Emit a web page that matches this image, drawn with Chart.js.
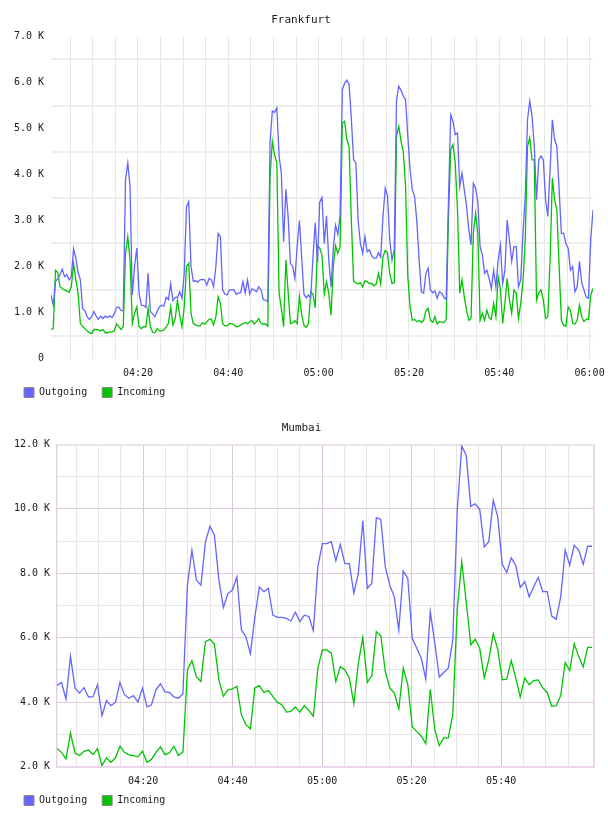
<!DOCTYPE html>
<html>
<head>
<meta charset="utf-8">
<title>Frankfurt / Mumbai traffic</title>
<script src="https://cdn.jsdelivr.net/npm/chart.js@4.4.1/dist/chart.umd.min.js"></script>
<style>
    html, body { margin: 0; padding: 0; background: #fff; }
    canvas { display: block; }
</style>
</head>
<body>
<canvas id="frankfurtChart" width="608" height="408"></canvas>
<canvas id="mumbaiChart" width="608" height="408"></canvas>
<script>
// x values are minutes after 04:00, y values are in K
const seriesNames = ['Outgoing', 'Incoming'];
const seriesColors = ['#6464ff', '#00c400'];

const axisStart = 0.75;
const axisEnd = 120.75;
const timeLabelMinutes = [20, 40, 60, 80, 100, 120];
const timeLabels = ['04:20', '04:40', '05:00', '05:20', '05:40', '06:00'];

// Frankfurt: one sample every 30 s
const frankfurtStart = 0.75;
const frankfurtStep = 0.5;
const frankfurtOutgoing = [
    1.38, 1.16, 1.67, 1.74, 1.82, 1.94, 1.78, 1.82, 1.71, 1.78,
    2.38, 2.18, 1.87, 1.71, 1.09, 1.04, 0.91, 0.85, 0.91, 1.02,
    0.92, 0.85, 0.92, 0.87, 0.92, 0.89, 0.93, 0.89, 0.97, 1.11,
    1.12, 1.04, 1.04, 3.89, 4.25, 3.74, 1.38, 2.0, 2.40, 1.42,
    1.16, 1.15, 1.11, 1.85, 1.02, 0.97, 0.91, 1.02, 1.12, 1.16,
    1.14, 1.33, 1.28, 1.62, 1.26, 1.33, 1.33, 1.45, 1.31, 1.85,
    3.3,
    3.41, 2.0, 1.68, 1.69, 1.66, 1.71, 1.72, 1.71, 1.60, 1.74,
    1.71, 1.56, 2.0, 2.72, 2.65, 1.49, 1.40, 1.38, 1.49, 1.49,
    1.49, 1.40, 1.42, 1.43, 1.67, 1.42, 1.71, 1.40, 1.52, 1.49,
    1.45, 1.56, 1.49, 1.28, 1.27, 1.23, 4.7, 5.38, 5.35, 5.45,
    4.40, 4.03, 2.54, 3.68, 3.09, 2.07, 2.0, 1.74, 2.43, 3.0,
    2.2, 1.4, 1.32, 1.38, 1.32, 2.2, 2.95, 2.1, 3.4, 3.5,
    2.5,
    3.1, 2.14, 1.55, 2.4, 2.9, 2.7, 3.1, 5.85, 5.98, 6.05,
    5.96, 5.2, 4.32, 4.25, 3.0, 2.5, 2.29, 2.65, 2.32, 2.36,
    2.23, 2.18, 2.18, 2.30, 2.2, 3.09, 3.7, 3.54, 2.58, 2.14,
    2.36, 5.63, 5.92, 5.83, 5.7, 5.63, 4.83, 4.1, 3.67, 3.52,
    2.98, 2.14, 1.45, 1.42, 1.85, 1.96, 1.49, 1.43, 1.47, 1.31,
    1.45, 1.42, 1.33, 1.28, 3.45, 5.3, 5.16, 4.87, 4.9, 3.74,
    4.03, 3.67, 3.31, 2.8, 2.47, 3.81, 3.7, 3.41, 2.43, 2.25,
    1.85, 1.92, 1.74, 1.52, 1.92, 1.56, 2.14, 2.47, 1.63, 1.92,
    3.01, 2.58, 2.11, 2.43, 2.43, 1.56, 1.71, 2.72, 3.52, 5.19,
    5.6, 5.27, 4.61, 3.45, 4.32, 4.4, 4.32, 3.45, 3.09, 4.1,
    5.19, 4.76, 4.61, 3.67, 2.72, 2.72, 2.5, 2.4, 1.92, 2.0,
    1.45, 1.56, 2.11, 1.65, 1.49, 1.33, 1.31, 2.58, 3.23
];
const frankfurtIncoming = [
    0.63, 0.65, 1.92, 1.87, 1.56, 1.52, 1.49, 1.47, 1.44, 1.56,
    2.06, 1.71, 1.42, 0.76, 0.70, 0.65, 0.60, 0.56, 0.54, 0.63,
    0.63, 0.62, 0.60, 0.63, 0.56, 0.56, 0.58, 0.58, 0.60, 0.75,
    0.70, 0.63, 0.69, 2.29, 2.65, 2.14, 0.76, 0.99, 1.12, 0.69,
    0.65, 0.69, 0.69, 1.09, 0.69, 0.57, 0.56, 0.65, 0.60, 0.60,
    0.62, 0.69, 0.76, 1.12, 0.73, 0.87, 1.27, 0.94, 0.69, 1.12,
    2.0,
    2.07, 0.98, 0.76, 0.73, 0.71, 0.71, 0.78, 0.74, 0.80, 0.85,
    0.86, 0.73, 0.91, 1.34, 1.2, 0.76, 0.71, 0.71, 0.76, 0.76,
    0.74, 0.69, 0.70, 0.73, 0.76, 0.78, 0.76, 0.80, 0.83, 0.75,
    0.80, 0.87, 0.76, 0.75, 0.75, 0.70, 3.96, 4.72, 4.43, 4.25,
    1.42, 1.09, 0.69, 2.14, 1.45, 0.76, 0.78, 0.82, 0.76, 1.36,
    0.95, 0.72, 0.68, 0.75, 1.45, 1.4, 1.1, 2.45, 2.4, 2.25,
    1.4,
    1.67, 1.42, 0.94, 2.0, 2.45, 2.29, 2.43, 5.12, 5.16, 4.76,
    4.61, 3.0, 1.67, 1.65, 1.62, 1.65, 1.56, 1.69, 1.67, 1.63,
    1.63, 1.58, 1.62, 1.85, 1.62, 2.21, 2.35, 2.3, 1.85, 1.63,
    1.65, 4.83, 5.05, 4.72, 4.5, 3.74, 1.78, 1.12, 0.83, 0.85,
    0.80, 0.83, 0.78, 0.83, 1.04, 1.09, 0.83, 0.79, 0.91, 0.75,
    0.80, 0.79, 0.78, 0.85, 3.09, 4.54, 4.65, 4.25, 3.23, 1.42,
    1.71, 1.34, 1.05, 0.83, 0.87, 2.72, 3.15, 2.72, 0.83, 0.98,
    0.83, 1.05, 0.89, 0.85, 1.2, 0.91, 1.78, 1.52, 0.76, 1.2,
    1.74, 1.27, 0.98, 1.49, 1.42, 0.87, 1.2, 1.67, 2.58, 4.61,
    4.8, 4.32, 4.32, 1.27, 1.43, 1.49, 1.27, 0.87, 0.91, 2.14,
    3.92, 3.45, 3.23, 2.0, 0.83, 0.73, 0.70, 1.12, 1.05, 0.76,
    0.75, 0.83, 1.16, 0.91, 0.80, 0.85, 0.85, 1.38, 1.52
];
const frankfurtYTicks = [0, 0.5, 1, 1.5, 2, 2.5, 3, 3.5, 4, 4.5, 5, 5.5, 6, 6.5, 7];
const frankfurtXTicks = [5, 10, 15, 20, 25, 30, 35, 40, 45, 50, 55, 60,
    65, 70, 75, 80, 85, 90, 95, 100, 105, 110, 115, 120];

// Mumbai: about one sample a minute
const mumbaiStart = 0.75;
const mumbaiStep = 1.005;
const mumbaiOutgoing = [
    4.52, 4.61, 4.09, 5.42, 4.44, 4.28, 4.45, 4.16, 4.17, 4.54,
    3.58, 4.05, 3.89, 3.99, 4.61, 4.23, 4.12, 4.2, 4.0, 4.43,
    3.85, 3.91, 4.38, 4.57, 4.32, 4.3, 4.16, 4.12, 4.26, 7.63,
    8.72, 7.79, 7.63, 8.97, 9.46, 9.18, 7.79, 6.94, 7.37, 7.48,
    7.89, 6.24, 6.03, 5.5, 6.65, 7.58, 7.43, 7.53, 6.7, 6.63,
    6.63, 6.6, 6.52, 6.79, 6.5, 6.7, 6.66, 6.22, 8.2, 8.92,
    8.92, 8.98, 8.39, 8.9, 8.3, 8.3, 7.38, 8.0, 9.63, 7.53,
    7.69, 9.73, 9.67, 8.2, 7.63, 7.27, 6.24, 8.07, 7.84, 5.98,
    5.67, 5.36, 4.71, 6.81, 5.83, 4.78, 4.92, 5.05, 5.93, 9.96,
    11.95, 11.66, 10.08, 10.16, 9.98, 8.82, 8.98, 10.27, 9.75, 8.28,
    8.02, 8.48, 8.25, 7.56, 7.74, 7.27, 7.58, 7.87, 7.43, 7.43,
    6.67, 6.57, 7.27, 8.72, 8.25, 8.87, 8.72, 8.28, 8.84, 8.84
];
const mumbaiIncoming = [
    2.56, 2.44, 2.24, 3.04, 2.42, 2.34, 2.47, 2.51, 2.37, 2.55,
    2.03, 2.27, 2.13, 2.27, 2.63, 2.44, 2.36, 2.34, 2.3, 2.47,
    2.13, 2.22, 2.44, 2.61, 2.37, 2.42, 2.63, 2.34, 2.45, 5.0,
    5.28, 4.78, 4.64, 5.88, 5.95, 5.8, 4.69, 4.18, 4.38, 4.41,
    4.49, 3.61, 3.3, 3.17, 4.44, 4.51, 4.3, 4.36, 4.18, 3.99,
    3.92, 3.69, 3.71, 3.85, 3.69, 3.89, 3.74, 3.56, 5.05, 5.62,
    5.62, 5.52, 4.64, 5.1, 5.0, 4.75, 3.95, 5.2, 6.01, 4.61,
    4.82, 6.19, 6.06, 4.95, 4.44, 4.28, 3.79, 5.05, 4.54, 3.23,
    3.09, 2.94, 2.71, 4.4, 3.15, 2.65, 2.89, 2.89, 3.61, 6.9,
    8.36, 7.1, 5.78, 5.95, 5.67, 4.75, 5.31, 6.12, 5.64, 4.69,
    4.71, 5.29, 4.75, 4.16, 4.75, 4.54, 4.67, 4.69, 4.44, 4.3,
    3.87, 3.89, 4.2, 5.23, 4.98, 5.81, 5.42, 5.09, 5.7, 5.7
];
const mumbaiYTicks = [2, 3, 4, 5, 6, 7, 8, 9, 10, 11, 12];
const mumbaiXTicks = [5, 10, 15, 20, 25, 30, 35, 40, 45, 50, 55, 60,
    65, 70, 75, 80, 85, 90, 95, 100, 105, 110, 115, axisEnd];

const MONO = "'DejaVu Sans Mono', monospace";
const TEXT = '#1a1a1a';

const toPoints = (values, start, step) => values.map((v, i) => ({ x: start + i * step, y: v }));

function timeLabel(value) {
    const i = timeLabelMinutes.indexOf(value);
    return i >= 0 ? timeLabels[i] : '';
}

function buildChart(canvasId, cfg) {
    return new Chart(document.getElementById(canvasId).getContext('2d'), {
        type: 'line',
        data: {
            datasets: [
                {
                    label: seriesNames[0],
                    data: toPoints(cfg.outgoing, cfg.start, cfg.step),
                    borderColor: seriesColors[0],
                    backgroundColor: seriesColors[0],
                },
                {
                    label: seriesNames[1],
                    data: toPoints(cfg.incoming, cfg.start, cfg.step),
                    borderColor: seriesColors[1],
                    backgroundColor: seriesColors[1],
                },
            ],
        },
        options: {
            responsive: false,
            animation: false,
            devicePixelRatio: 1,
            layout: { padding: { left: 9, right: cfg.padRight, top: 0, bottom: 0.5 } },
            elements: {
                point: { radius: 0 },
                line: { borderWidth: 1.3, tension: 0 },
            },
            plugins: {
                title: {
                    display: true,
                    text: cfg.title,
                    color: TEXT,
                    font: { family: MONO, size: 11, weight: 'normal' },
                    padding: { top: 13.4, bottom: 9.9 },
                },
                legend: {
                    position: 'bottom',
                    align: 'start',
                    labels: {
                        boxWidth: 10,
                        boxHeight: 10,
                        padding: 15,
                        color: TEXT,
                        font: { family: MONO, size: 10 },
                        generateLabels: (chart) => Chart.defaults.plugins.legend.labels.generateLabels(chart)
                            .map(item => ({ ...item, strokeStyle: '#8a8a8a', lineWidth: 1 })),
                    },
                },
                tooltip: { enabled: false },
            },
            scales: {
                x: {
                    type: 'linear',
                    min: axisStart,
                    max: axisEnd,
                    afterBuildTicks: (scale) => { scale.ticks = cfg.xTicks.map(v => ({ value: v })); },
                    afterFit: (scale) => {
                        scale.height = 14;
                        scale.paddingLeft = 0;
                        scale.paddingRight = 0;
                        // the axis box is thin, so don't clip the time labels to it
                        scale._computeLabelArea = () => null;
                    },
                    grid: { drawTicks: false, color: cfg.xGridColor, lineWidth: cfg.xGridWidth },
                    border: cfg.xBorder,
                    ticks: {
                        autoSkip: false,
                        maxRotation: 0,
                        padding: 8.5,
                        color: TEXT,
                        font: { family: MONO, size: 10 },
                        callback: (value) => timeLabel(value),
                    },
                },
                y: {
                    min: cfg.yTicks[0],
                    max: cfg.yTicks[cfg.yTicks.length - 1],
                    afterBuildTicks: (scale) => { scale.ticks = cfg.yTicks.map(v => ({ value: v })); },
                    afterFit: (scale) => { scale.width = cfg.yAxisWidth; scale.paddingTop = 0; scale.paddingBottom = 0; },
                    grid: { drawTicks: false, color: cfg.yGridColor, lineWidth: cfg.yGridWidth },
                    border: cfg.yBorder,
                    ticks: {
                        autoSkip: false,
                        padding: 7,
                        color: TEXT,
                        font: { family: MONO, size: 10 },
                        callback: cfg.yLabel,
                    },
                },
            },
        },
    });
}

// Frankfurt: labels on whole K, grid lines on the half K
buildChart('frankfurtChart', {
    title: 'Frankfurt',
    outgoing: frankfurtOutgoing,
    incoming: frankfurtIncoming,
    start: frankfurtStart,
    step: frankfurtStep,
    xTicks: frankfurtXTicks,
    yTicks: frankfurtYTicks,
    yAxisWidth: 42,
    padRight: 15,
    xGridColor: '#e6e6e6',
    xGridWidth: 1,
    yGridColor: (ctx) => (ctx.tick.value % 1 === 0 ? 'rgba(0,0,0,0)' : '#eeeeee'),
    yGridWidth: 2,
    xBorder: { display: false },
    yBorder: { display: false },
    yLabel: (v) => (v % 1 !== 0 ? '' : (v === 0 ? '0' : v.toFixed(1) + ' K')),
});

// Mumbai: framed plot, purple lines every 2 K and every 20 minutes
buildChart('mumbaiChart', {
    title: 'Mumbai',
    outgoing: mumbaiOutgoing,
    incoming: mumbaiIncoming,
    start: mumbaiStart,
    step: mumbaiStep,
    xTicks: mumbaiXTicks,
    yTicks: mumbaiYTicks,
    yAxisWidth: 48,
    padRight: 14,
    xGridColor: (ctx) => {
        const v = ctx.tick.value;
        if (v === axisEnd) return '#ead8ea';
        return v % 20 === 0 ? '#dcc4dc' : '#e6e6e6';
    },
    xGridWidth: (ctx) => (ctx.tick.value === axisEnd ? 2 : 1),
    yGridColor: (ctx) => {
        const v = ctx.tick.value;
        if (v === 12) return '#ede0ed';
        return v % 2 === 0 ? '#e2cae2' : '#e6e6e6';
    },
    yGridWidth: (ctx) => (ctx.tick.value === 12 ? 2 : 1),
    xBorder: { display: true, color: '#ead8ea', width: 2 },
    yBorder: { display: true, color: '#e6d0e6', width: 1.5 },
    yLabel: (v) => (v % 2 === 0 ? v.toFixed(1) + ' K' : ''),
});
</script>
</body>
</html>
